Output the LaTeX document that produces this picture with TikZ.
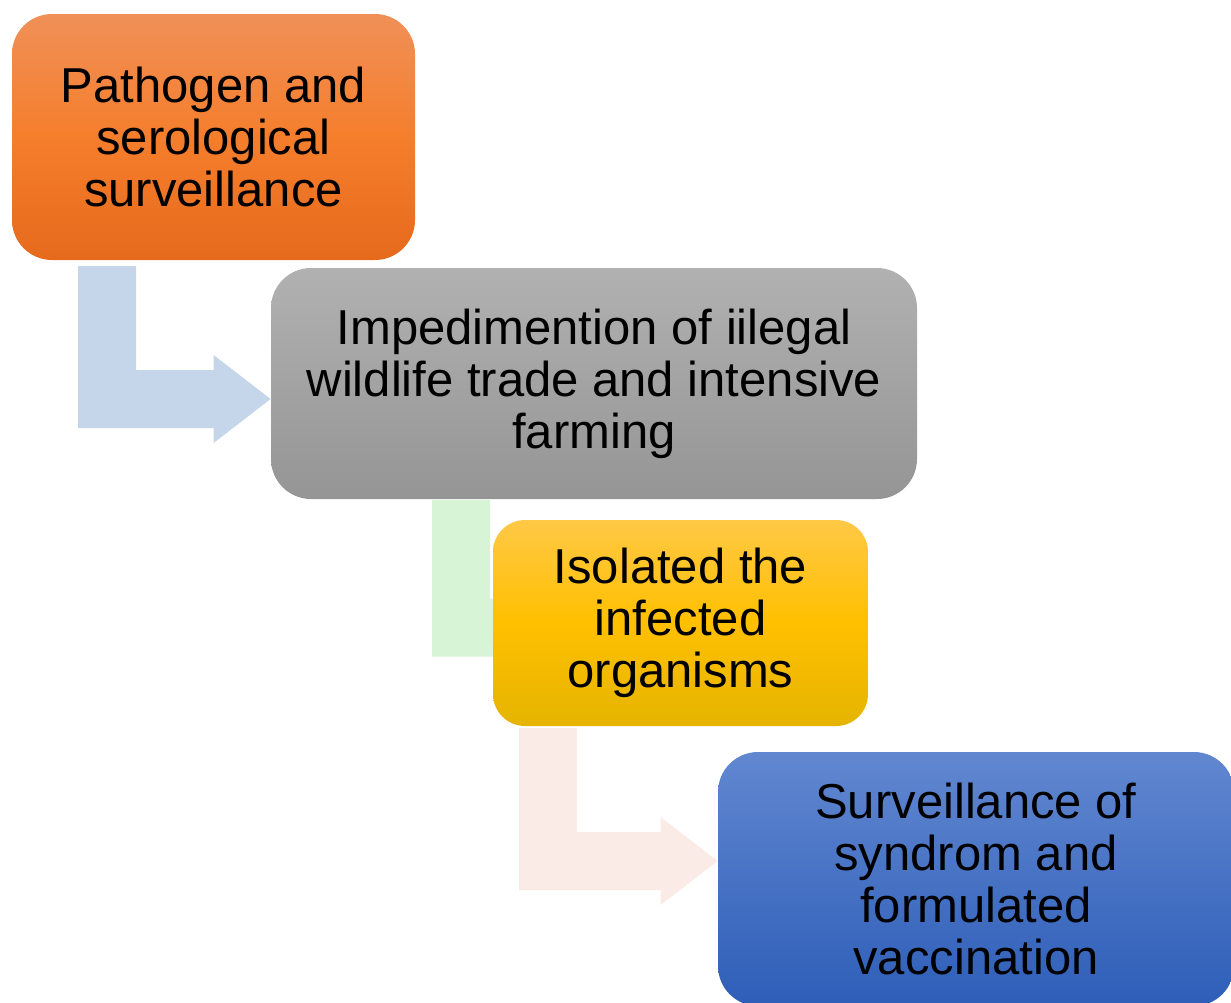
\documentclass[tikz,border=0pt]{standalone}
\usepackage{fontspec}
\setmainfont{Liberation Sans}
\usetikzlibrary{calc,backgrounds}

\definecolor{orangetop}{RGB}{240,144,88}
\definecolor{orangemid}{RGB}{245,126,44}
\definecolor{orangebot}{RGB}{230,106,28}
\definecolor{greytop}{RGB}{177,177,177}
\definecolor{greybot}{RGB}{149,149,149}
\definecolor{yellowtop}{RGB}{255,200,70}
\definecolor{yellowmid}{RGB}{255,192,0}
\definecolor{yellowbot}{RGB}{229,180,0}
\definecolor{bluetop}{RGB}{97,135,208}
\definecolor{bluebot}{RGB}{46,94,184}
\definecolor{arrowblue}{RGB}{197,213,234}
\definecolor{arrowgreen}{RGB}{216,244,214}
\definecolor{arrowpink}{RGB}{251,235,230}

\tikzset{
  box/.style={rounded corners=20pt, inner sep=0pt, align=center, text=black,
    font=\fontsize{24.5}{26}\selectfont},
}

% bent block arrow: colour, shaft left x, shaft top y, bar centre y, target anchor
\newcommand\bentarrow[5]{%
  \fill[#1] (#2,#3) -- (#2+58,#3) -- (#2+58,#4-29)
    -- ($(#5 |- 0,#4)+(-57,-29)$) -- ++(0,-15) -- (#5 |- 0,#4)
    -- ($(#5 |- 0,#4)+(-57,44)$) -- ++(0,-15) -- (#2,#4+29) -- cycle;
}

\begin{document}
\begin{tikzpicture}[x=0.5pt,y=-0.5pt]
  \useasboundingbox (0,0) rectangle (1231,1002);

  \node[box, top color=orangetop, bottom color=orangebot,
        middle color=orangemid,
        minimum width=201.5pt, minimum height=123pt] at (213.5,137) (b1)
        {Pathogen and\\serological\\surveillance};
  \node[box, top color=greytop, bottom color=greybot,
        minimum width=323pt, minimum height=115.5pt] at (594,383.5) (b2)
        {Impedimention of iilegal\\wildlife trade and intensive\\farming};
  \node[box, rounded corners=16pt, top color=yellowtop, bottom color=yellowbot,
        middle color=yellowmid,
        minimum width=187.5pt, minimum height=103pt] at (680.5,623) (b3)
        {Isolated the\\infected\\organisms};
  \node[box, top color=bluetop, bottom color=bluebot,
        minimum width=258pt, minimum height=127pt] at (976,879) (b4)
        {Surveillance of\\syndrom and\\formulated\\vaccination};

  \begin{scope}[on background layer]
    \bentarrow{arrowblue}{78}{266}{399}{b2.west}
    \bentarrow{arrowgreen}{432}{500}{627.5}{b3.center}
    \bentarrow{arrowpink}{519}{728}{861}{b4.west}
  \end{scope}
\end{tikzpicture}
\end{document}
